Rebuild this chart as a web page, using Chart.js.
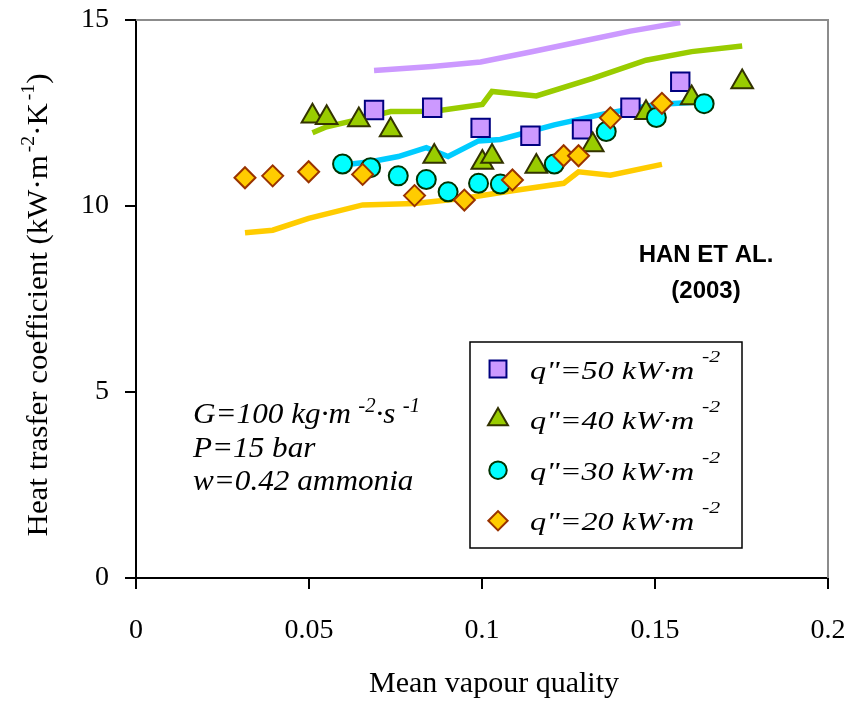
<!DOCTYPE html>
<html><head><meta charset="utf-8">
<script src="https://cdn.jsdelivr.net/npm/chart.js@4.4.0/dist/chart.umd.min.js"></script>
<style>html,body{margin:0;padding:0;background:#fff;} canvas{display:block;}</style>
</head><body>
<canvas id="c" width="850" height="706"></canvas>
<script>
// ---------- data ----------
const xTickValues = [0, 0.05, 0.1, 0.15, 0.2];
const xTickLabels = ['0', '0.05', '0.1', '0.15', '0.2'];
const yTickValues = [0, 5, 10, 15];
const yTickLabels = ['0', '5', '10', '15'];

const q50X = [0.0688, 0.0856, 0.0996, 0.1140, 0.1289, 0.1429, 0.1573];
const q50Y = [12.58, 12.64, 12.10, 11.89, 12.06, 12.64, 13.34];
const q50ModelY = [13.64, 13.75, 13.87, 14.14, 14.43, 14.70, 14.93];

const q40X = [0.0510, 0.0551, 0.0644, 0.0736, 0.0862, 0.1001, 0.1029, 0.1157, 0.1320, 0.1474, 0.1606, 0.1752];
const q40Y = [12.41, 12.37, 12.31, 12.04, 11.33, 11.17, 11.33, 11.06, 11.64, 12.51, 12.90, 13.33];
const q40ModelY = [11.97, 12.13, 12.33, 12.54, 12.55, 12.73, 13.08, 12.96, 13.43, 13.92, 14.15, 14.30];

const q30X = [0.0597, 0.0678, 0.0758, 0.0839, 0.0902, 0.0990, 0.1053, 0.1209, 0.1359, 0.1504, 0.1642];
const q30Y = [11.13, 11.03, 10.81, 10.71, 10.38, 10.61, 10.59, 11.13, 12.00, 12.38, 12.75];
const q30ModelY = [11.10, 11.19, 11.33, 11.57, 11.33, 11.75, 11.79, 12.18, 12.49, 12.73, 12.80];

const q20X = [0.0315, 0.0395, 0.0499, 0.0655, 0.0805, 0.0949, 0.1088, 0.1236, 0.1279, 0.1371, 0.1520];
const q20Y = [10.76, 10.81, 10.92, 10.85, 10.28, 10.16, 10.70, 11.35, 11.35, 12.37, 12.76];
const q20ModelY = [9.28, 9.35, 9.67, 10.03, 10.07, 10.21, 10.41, 10.61, 10.92, 10.83, 11.12];

const seriesNames = ['q"=50 kW·m', 'q"=40 kW·m', 'q"=30 kW·m', 'q"=20 kW·m'];
const seriesSup = '-2';
const xTitle = 'Mean vapour quality';
const yTitleSegs = [['Heat trasfer coefficient (kW·m', false], ['-2', true], ['·K', false], ['-1', true], [')', false]];
const noteLines = [
  [['G=100 kg·m', false], ['-2', true], ['·s', false], ['-1', true]],
  [['P=15 bar', false]],
  [['w=0.42 ammonia', false]]
];
const sourceLines = ['HAN ET AL.', '(2003)'];

// ---------- styles ----------
const SERIF = '"Liberation Serif", "Times New Roman", serif';
const SANS = '"Liberation Sans", Arial, sans-serif';
Chart.defaults.font.family = SERIF;
Chart.defaults.color = '#000';

const styles = [
  {pt: 'rect',     r: 13,   fill: '#CC99FF', edge: '#000080', line: '#CC99FF'},
  {pt: 'triangle', r: 12.5, fill: '#99CC00', edge: '#333300', line: '#99CC00'},
  {pt: 'circle',   r: 9.5,  fill: '#00FFFF', edge: '#003300', line: '#00CCFF'},
  {pt: 'rectRot',  r: 10.5, fill: '#FFCC00', edge: '#993300', line: '#FFCC00'}
];
const seriesX = [q50X, q40X, q30X, q20X];
const seriesY = [q50Y, q40Y, q30Y, q20Y];
const modelY = [q50ModelY, q40ModelY, q30ModelY, q20ModelY];

const pts = (xs, ys) => xs.map((x, i) => ({x: x, y: ys[i]}));

const datasets = [];
for (let i = 0; i < 4; i++) {
  datasets.push({
    label: seriesNames[i] + ' model',
    data: pts(seriesX[i], modelY[i]),
    showLine: true, pointRadius: 0, borderColor: styles[i].line, borderWidth: 5.5,
    tension: 0, order: 20 + i
  });
}
for (let i = 0; i < 4; i++) {
  datasets.push({
    label: seriesNames[i],
    data: pts(seriesX[i], seriesY[i]),
    showLine: false, pointStyle: styles[i].pt, pointRadius: styles[i].r,
    pointBackgroundColor: styles[i].fill, pointBorderColor: styles[i].edge,
    pointBorderWidth: 2, order: 4 - i
  });
}

function richWidth(ctx, segs, o) {
  let w = 0;
  for (const [t, sup] of segs) {
    ctx.font = sup ? o.supFont : o.font;
    w += ctx.measureText(t).width + (sup ? o.supGap : 0);
  }
  return w;
}
function drawRich(ctx, segs, x, y, o) {
  ctx.save();
  ctx.translate(x, y);
  if (o.rot) ctx.rotate(o.rot);
  ctx.scale(o.sx || 1, 1);
  let cx = o.align === 'center' ? -richWidth(ctx, segs, o) / 2 : 0;
  ctx.textAlign = 'left'; ctx.textBaseline = 'alphabetic'; ctx.fillStyle = '#000';
  for (const [t, sup] of segs) {
    if (sup) { cx += o.supGap; ctx.font = o.supFont; ctx.fillText(t, cx, -o.supRise); }
    else { ctx.font = o.font; ctx.fillText(t, cx, 0); }
    cx += ctx.measureText(t).width;
  }
  ctx.restore();
}

const decor = {
  id: 'decor',
  afterDraw(chart) {
    const ctx = chart.ctx;
    const a = chart.chartArea;
    // grey frame top/right
    ctx.save();
    ctx.strokeStyle = '#8c8c8c'; ctx.lineWidth = 2;
    ctx.beginPath();
    ctx.moveTo(a.left, a.top); ctx.lineTo(a.right, a.top); ctx.lineTo(a.right, a.bottom);
    ctx.stroke();
    ctx.restore();

    // legend box
    ctx.save();
    ctx.fillStyle = '#fff'; ctx.strokeStyle = '#000'; ctx.lineWidth = 1.5;
    ctx.fillRect(470, 342, 272, 206);
    ctx.strokeRect(470, 342, 272, 206);
    for (let i = 0; i < 4; i++) {
      const cy = 369 + i * 50.6;
      const s = styles[i];
      ctx.fillStyle = s.fill; ctx.strokeStyle = s.edge; ctx.lineWidth = 2;
      Chart.helpers.drawPoint(ctx, {pointStyle: s.pt, radius: s.r * 0.92, rotation: 0, borderWidth: 2}, 498, cy);
      drawRich(ctx, [[seriesNames[i], false], [seriesSup, true]], 530, cy + 9.5, {
        font: 'italic 25px ' + SERIF, supFont: 'italic 17px ' + SERIF,
        supRise: 17, supGap: 6, sx: 1.29
      });
    }
    ctx.restore();

    // annotation
    const base = [423, 457, 490];
    noteLines.forEach((segs, i) => {
      drawRich(ctx, segs, 193, base[i], {
        font: 'italic 30px ' + SERIF, supFont: 'italic 20px ' + SERIF,
        supRise: 11, supGap: 7, sx: 1.04
      });
    });

    // source
    ctx.save();
    ctx.fillStyle = '#000'; ctx.font = 'bold 24px ' + SANS;
    ctx.textAlign = 'center'; ctx.textBaseline = 'alphabetic';
    ctx.fillText(sourceLines[0], 706, 262);
    ctx.fillText(sourceLines[1], 706, 298);
    ctx.restore();

    // x title
    drawRich(ctx, [[xTitle, false]], 494, 692, {
      font: '30px ' + SERIF, supFont: '20px ' + SERIF, supRise: 0, supGap: 0, sx: 1, align: 'center'
    });

    // y title
    drawRich(ctx, yTitleSegs, 47, 305, {
      font: '30px ' + SERIF, supFont: '19px ' + SERIF,
      supRise: 13, supGap: 3, sx: 1.03, rot: -Math.PI / 2, align: 'center'
    });
  }
};

const noPad = s => { s.paddingLeft = 0; s.paddingRight = 0; s.paddingTop = 0; s.paddingBottom = 0; };

new Chart(document.getElementById('c'), {
  type: 'scatter',
  data: {datasets: datasets},
  plugins: [decor],
  options: {
    responsive: false, animation: false, events: [],
    layout: {padding: {top: 20, right: 22, left: 0, bottom: 0}},
    plugins: {legend: {display: false}, tooltip: {enabled: false}},
    scales: {
      x: {
        type: 'linear', min: 0, max: 0.2,
        afterBuildTicks: s => { s.ticks = xTickValues.map(v => ({value: v})); },
        afterFit: s => { s.height = 128; noPad(s); },
        ticks: {callback: (v, i) => xTickLabels[i], font: {size: 28}, padding: 25, color: '#000', maxRotation: 0, autoSkip: false},
        grid: {drawOnChartArea: false, drawTicks: true, tickLength: 11, color: '#000', lineWidth: 2},
        border: {display: true, color: '#000', width: 2},
        title: {display: false}
      },
      y: {
        type: 'linear', min: 0, max: 15,
        afterBuildTicks: s => { s.ticks = yTickValues.map(v => ({value: v})); },
        afterFit: s => { s.width = 136; noPad(s); },
        ticks: {callback: (v, i) => yTickLabels[i], font: {size: 28}, padding: 16, color: '#000'},
        grid: {drawOnChartArea: false, drawTicks: true, tickLength: 11, color: '#000', lineWidth: 2},
        border: {display: true, color: '#000', width: 2}
      }
    }
  }
});
</script>
</body></html>
